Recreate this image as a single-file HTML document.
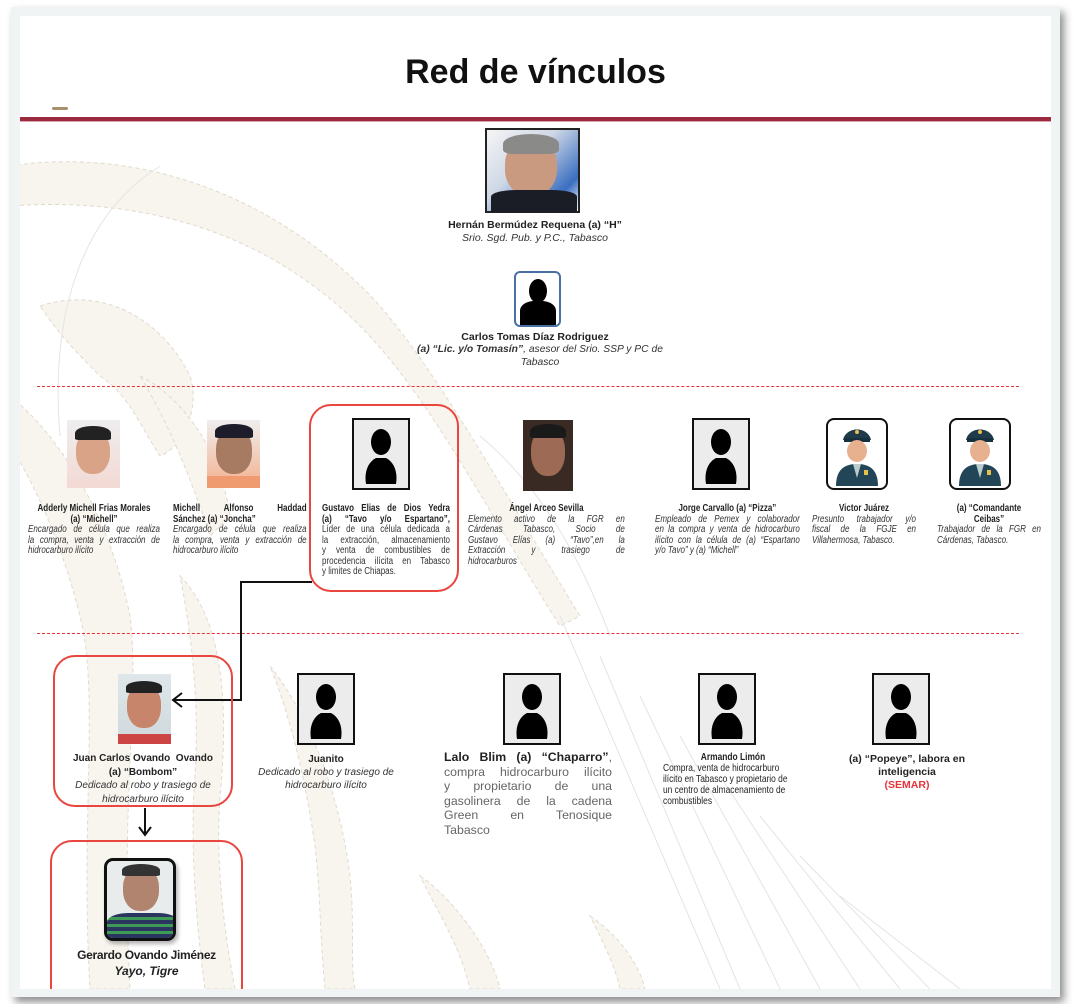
<!DOCTYPE html>
<html><head><meta charset="utf-8">
<style>
*{margin:0;padding:0;box-sizing:border-box}
body{width:1074px;height:1004px;background:#fff;position:relative;overflow:hidden;font-family:"Liberation Sans",sans-serif;color:#222}
#frame{position:absolute;left:11px;top:7px;width:1049px;height:990px;background:#f1f4f4;box-shadow:4px 5px 8px rgba(0,0,0,.45)}
#page{position:absolute;left:20px;top:16px;width:1031px;height:973px;background:#fff;overflow:hidden}
.a{position:absolute}
.t{position:absolute}
.b{font-weight:bold;color:#222}
.i{font-style:italic;color:#333}
.c{text-align:center}
.rb{position:absolute;border:2px solid #e8463f;border-radius:22px}
.sil{position:absolute}
.n{position:absolute;transform:scaleX(.8);transform-origin:0 0;font-size:10px;line-height:10.5px;white-space:nowrap;color:#222}
.l{text-align:justify;text-align-last:justify}
</style></head><body>
<div id="frame"></div>
<div id="page">
<svg class="a" style="left:0;top:0" width="1031" height="973">
<g fill="#f8f5ee" stroke="#e0dace" stroke-width="1" stroke-dasharray="4 3">
<path d="M-10 150 C120 130 260 180 360 290 C420 360 480 470 560 600 L540 610 C470 500 410 380 340 310 C250 220 130 180 -10 190Z"/>
<path d="M20 290 C80 270 140 300 170 360 C180 390 165 430 140 440 C120 410 110 380 80 360 C60 340 40 320 20 290Z"/>
<path d="M120 360 C160 380 200 430 210 500 L190 520 C170 460 150 410 120 360Z"/>
<path d="M-10 380 C40 420 90 500 110 600 C120 680 100 780 110 973 L70 973 C60 800 80 680 60 600 C40 520 10 460 -10 430Z"/>
<path d="M160 560 C200 600 210 680 200 780 C195 850 205 920 215 973 L185 973 C175 900 170 820 175 760 C180 680 170 610 160 560Z"/>
<path d="M250 650 C290 700 320 780 330 860 C335 910 330 950 335 973 L305 973 C300 920 300 870 295 830 C285 760 270 700 250 650Z"/>
<path d="M400 860 C430 880 470 930 480 973 L450 973 C440 930 420 900 400 860Z"/>
<path d="M570 900 C600 920 620 950 625 973 L600 973 C595 950 585 930 570 900Z"/>
</g>
<g stroke="#e4e4e4" stroke-width="1" fill="none">
<path d="M540 600 L700 973"/><path d="M580 640 L720 973"/><path d="M620 680 L760 973"/><path d="M660 720 L800 973"/><path d="M700 760 L840 973"/><path d="M740 800 L880 973"/><path d="M780 840 L910 973"/><path d="M820 880 L940 973"/>
<path d="M460 420 C520 470 560 540 590 620"/><path d="M40 420 C30 300 60 200 140 150"/>
</g>
</svg>
<div class="a c" style="left:0;top:37px;width:1031px;font-size:34px;font-weight:bold;color:#111">Red de vínculos</div>
<div class="a" style="left:32px;top:91px;width:16px;height:3px;background:#a8916a;border-radius:2px"></div>
<div class="a" style="left:0;top:101px;width:1031px;height:4px;background:#9c2a3f"></div>
<div class="a" style="left:0;top:105px;width:1031px;height:1px;background:#d9a8b2"></div>

<svg width="0" height="0" style="position:absolute"><defs>
<symbol id="s" viewBox="0 0 58 72"><rect x="1" y="1" width="56" height="70" fill="#ececec" stroke="#111" stroke-width="2"/><ellipse cx="29" cy="24" rx="10" ry="13" fill="#000"/><path d="M14 66 C12 54 16 44 24 40 L34 40 C42 44 46 54 44 66Z" fill="#000"/></symbol>
<symbol id="p" viewBox="0 0 62 72"><rect x="1" y="1" width="60" height="70" rx="7" fill="#fff" stroke="#111" stroke-width="2"/><path d="M17 22 C20 8 42 8 45 22Z" fill="#1f3a4a"/><rect x="18" y="20" width="26" height="4" fill="#16303e"/><circle cx="31" cy="14" r="2" fill="#e9c04a"/><ellipse cx="31" cy="33" rx="10" ry="11" fill="#e7b08f"/><path d="M10 68 C10 52 18 46 31 46 C44 46 52 52 52 68Z" fill="#224657"/><path d="M27 46 L31 60 L35 46Z" fill="#bcc"/><rect x="38" y="52" width="4" height="5" fill="#e9c04a"/></symbol>
</defs></svg>

<!-- H -->
<div class="a" style="left:465px;top:112px;width:95px;height:85px;border:2px solid #222;background:linear-gradient(135deg,#f5f5f5 0%,#cfd8e6 40%,#3a6ec0 80%,#fff 100%)">
<div class="a" style="left:18px;top:8px;width:52px;height:58px;border-radius:45%;background:#c99a80"></div>
<div class="a" style="left:16px;top:4px;width:56px;height:20px;border-radius:50% 50% 20% 20%;background:#8a8a88"></div>
<div class="a" style="left:4px;top:60px;width:86px;height:22px;border-radius:30% 30% 0 0;background:#1b1d26"></div>
</div>
<div class="t b c" style="left:380px;top:203px;width:270px;font-size:10.5px;line-height:13px">Hernán Bermúdez Requena (a) “H”</div>
<div class="t i c" style="left:380px;top:216px;width:270px;font-size:10.5px;line-height:13px">Srio. Sgd. Pub. y P.C., Tabasco</div>

<!-- Carlos -->
<div class="a" style="left:494px;top:255px;width:47px;height:56px;border:2px solid #4a6fa5;border-radius:6px;background:#fff;overflow:hidden">
<div class="a" style="left:13px;top:6px;width:18px;height:24px;border-radius:50%;background:#000"></div>
<div class="a" style="left:4px;top:28px;width:36px;height:24px;border-radius:40% 40% 0 0;background:#000"></div>
</div>
<div class="t b c" style="left:380px;top:315px;width:270px;font-size:10.5px;line-height:13px">Carlos Tomas Díaz Rodriguez</div>
<div class="t i c" style="left:392px;top:328px;width:256px;font-size:10.3px;line-height:12.5px"><b>(a) “Lic. y/o Tomasín”</b>, asesor del Srio. SSP y PC de Tabasco</div>

<div class="a" style="left:17px;top:370px;width:982px;border-top:1.5px dashed #e8333a"></div>

<!-- row 2 images -->
<div class="a" style="left:47px;top:404px;width:53px;height:68px;background:linear-gradient(#eee,#f3d9d4)"><div class="a" style="left:9px;top:10px;width:34px;height:44px;border-radius:45%;background:#d9a387"></div><div class="a" style="left:8px;top:6px;width:36px;height:14px;border-radius:50% 50% 10% 10%;background:#222"></div></div>
<div class="a" style="left:187px;top:404px;width:53px;height:68px;background:linear-gradient(#eee,#f4b08d)"><div class="a" style="left:9px;top:8px;width:36px;height:46px;border-radius:45%;background:#a77a62"></div><div class="a" style="left:8px;top:4px;width:38px;height:14px;border-radius:50% 50% 10% 10%;background:#1c1c2a"></div><div class="a" style="left:0;top:56px;width:53px;height:12px;background:#f09a70"></div></div>
<div class="rb" style="left:289px;top:388px;width:150px;height:188px"></div>
<svg class="sil" style="left:332px;top:402px" width="58" height="72"><use href="#s"/></svg>
<div class="a" style="left:503px;top:404px;width:50px;height:71px;background:#3a2a24"><div class="a" style="left:8px;top:8px;width:34px;height:48px;border-radius:45%;background:#9c6a55"></div><div class="a" style="left:7px;top:4px;width:36px;height:14px;border-radius:50% 50% 10% 10%;background:#1a1a1a"></div></div>
<svg class="sil" style="left:672px;top:402px" width="58" height="72"><use href="#s"/></svg>
<svg class="sil" style="left:806px;top:402px" width="62" height="72"><use href="#p"/></svg>
<svg class="sil" style="left:929px;top:402px" width="62" height="72"><use href="#p"/></svg>

<!-- row 2 texts -->
<div class="n" style="left:8px;top:488px;width:165px">
<div class="b c">Adderly Michell Frias Morales</div><div class="b c">(a) “Michell”</div>
<div class="i l">Encargado de célula que realiza</div><div class="i l">la compra, venta y extracción de</div><div class="i">hidrocarburo ilícito</div></div>

<div class="n" style="left:153px;top:488px;width:167px">
<div class="b l">Michell Alfonso Haddad</div><div class="b">Sánchez (a) “Joncha”</div>
<div class="i l">Encargado de célula que realiza</div><div class="i l">la compra, venta y extracción de</div><div class="i">hidrocarburo ilícito</div></div>

<div class="n" style="left:302px;top:488px;width:160px">
<div class="b l">Gustavo Elias de Dios Yedra</div><div class="b l">(a) “Tavo y/o Espartano”,</div>
<div class="l" style="color:#333">Líder de una célula dedicada a</div><div class="l" style="color:#333">la extracción, almacenamiento</div><div class="l" style="color:#333">y venta de combustibles de</div><div class="l" style="color:#333">procedencia ilícita en Tabasco</div><div style="color:#333">y limites de Chiapas.</div></div>

<div class="n" style="left:448px;top:488px;width:196px">
<div class="b c">Ángel Arceo Sevilla</div>
<div class="i l">Elemento activo de la FGR en</div><div class="i l">Cárdenas Tabasco, Socio de</div><div class="i l">Gustavo Elías (a) “Tavo”,en la</div><div class="i l">Extracción y trasiego de</div><div class="i">hidrocarburos</div></div>

<div class="n" style="left:635px;top:488px;width:181px">
<div class="b c">Jorge Carvallo (a) “Pizza”</div>
<div class="i l">Empleado de Pemex y colaborador</div><div class="i l">en la compra y venta de hidrocarburo</div><div class="i l">ilícito con la célula de (a) “Espartano</div><div class="i">y/o Tavo” y (a) “Michell”</div></div>

<div class="n" style="left:792px;top:488px;width:130px">
<div class="b c">Victor Juárez</div>
<div class="i l">Presunto trabajador y/o</div><div class="i l">fiscal de la FGJE en</div><div class="i">Villahermosa, Tabasco.</div></div>

<div class="n" style="left:917px;top:488px;width:130px">
<div class="b c">(a) “Comandante</div><div class="b c">Ceibas”</div>
<div class="i l">Trabajador de la FGR en</div><div class="i">Cárdenas, Tabasco.</div></div>

<div class="a" style="left:17px;top:617px;width:982px;border-top:1.5px dashed #e8333a"></div>

<!-- connectors -->
<svg class="a" style="left:0;top:0" width="1031" height="973">
<g stroke="#111" stroke-width="2" fill="none">
<path d="M292 566 H221 V684 H154"/>
<path d="M162 677 L153 684 L162 691"/>
<path d="M125 792 V818"/>
<path d="M119 811 L125 819 L131 811"/>
</g>
</svg>

<!-- Juan -->
<div class="rb" style="left:33px;top:639px;width:180px;height:152px"></div>
<div class="a" style="left:98px;top:658px;width:53px;height:70px;background:linear-gradient(#dfe7ea,#cfd8dc)"><div class="a" style="left:9px;top:10px;width:34px;height:44px;border-radius:45%;background:#c7866b"></div><div class="a" style="left:8px;top:7px;width:36px;height:12px;border-radius:50% 50% 10% 10%;background:#222"></div><div class="a" style="left:0;top:60px;width:53px;height:10px;background:#c44"></div></div>
<div class="t b c" style="left:33px;top:736px;width:180px;font-size:10px;line-height:13.5px">Juan Carlos Ovando &nbsp;Ovando<br>(a) “Bombom”</div>
<div class="t i c" style="left:33px;top:763px;width:180px;font-size:10px;line-height:13.5px">Dedicado al robo y trasiego de<br>hidrocarburo ilícito</div>

<!-- Gerardo -->
<div class="rb" style="left:30px;top:824px;width:193px;height:170px"></div>
<div class="a" style="left:84px;top:842px;width:72px;height:83px;border:3px solid #111;border-radius:9px;background:#e8ecec;overflow:hidden;box-shadow:2px 3px 4px rgba(0,0,0,.3)"><div class="a" style="left:16px;top:6px;width:36px;height:44px;border-radius:45%;background:#b18470"></div><div class="a" style="left:15px;top:3px;width:38px;height:12px;border-radius:50% 50% 10% 10%;background:#333"></div><div class="a" style="left:0;top:52px;width:72px;height:30px;border-radius:30% 30% 0 0;background:repeating-linear-gradient(#2a3560 0 4px,#3f9a55 4px 7px)"></div></div>
<div class="a c" style="left:30px;top:932px;width:193px;font-size:12px;font-weight:bold;color:#222;letter-spacing:-.3px">Gerardo Ovando Jiménez</div>
<div class="a c" style="left:30px;top:948px;width:193px;font-size:12px;font-weight:bold;font-style:italic;color:#222">Yayo, Tigre</div>

<!-- Juanito -->
<svg class="sil" style="left:277px;top:657px" width="58" height="72"><use href="#s"/></svg>
<div class="t b c" style="left:226px;top:737px;width:160px;font-size:10px;line-height:13px">Juanito</div>
<div class="t i c" style="left:226px;top:750px;width:160px;font-size:10px;line-height:13px">Dedicado al robo y trasiego de<br>hidrocarburo ilícito</div>

<!-- Lalo -->
<svg class="sil" style="left:483px;top:657px" width="58" height="72"><use href="#s"/></svg>
<div class="a" style="left:424px;top:734px;width:168px;font-size:12.3px;line-height:14.5px;color:#666;white-space:nowrap">
<div class="l"><b style="color:#222">Lalo Blim (a) “Chaparro”</b>,</div>
<div class="l">compra hidrocarburo ilícito</div>
<div class="l">y propietario de una</div>
<div class="l">gasolinera de la cadena</div>
<div class="l">Green en Tenosique</div>
<div>Tabasco</div></div>

<!-- Armando -->
<svg class="sil" style="left:678px;top:657px" width="58" height="72"><use href="#s"/></svg>
<div class="n" style="left:643px;top:736px;width:175px;font-size:10.5px;line-height:11px">
<div class="b c">Armando Limón</div>
<div>Compra, venta de hidrocarburo</div><div>ilícito en Tabasco y propietario de</div><div>un centro de almacenamiento de</div><div>combustibles</div></div>

<!-- Popeye -->
<svg class="sil" style="left:852px;top:657px" width="58" height="72"><use href="#s"/></svg>
<div class="a c b" style="left:815px;top:737px;width:144px;font-size:10.5px;line-height:13px">(a) “Popeye”, labora en inteligencia<br><span style="color:#e8333a">(SEMAR)</span></div>
</div>
</body></html>
